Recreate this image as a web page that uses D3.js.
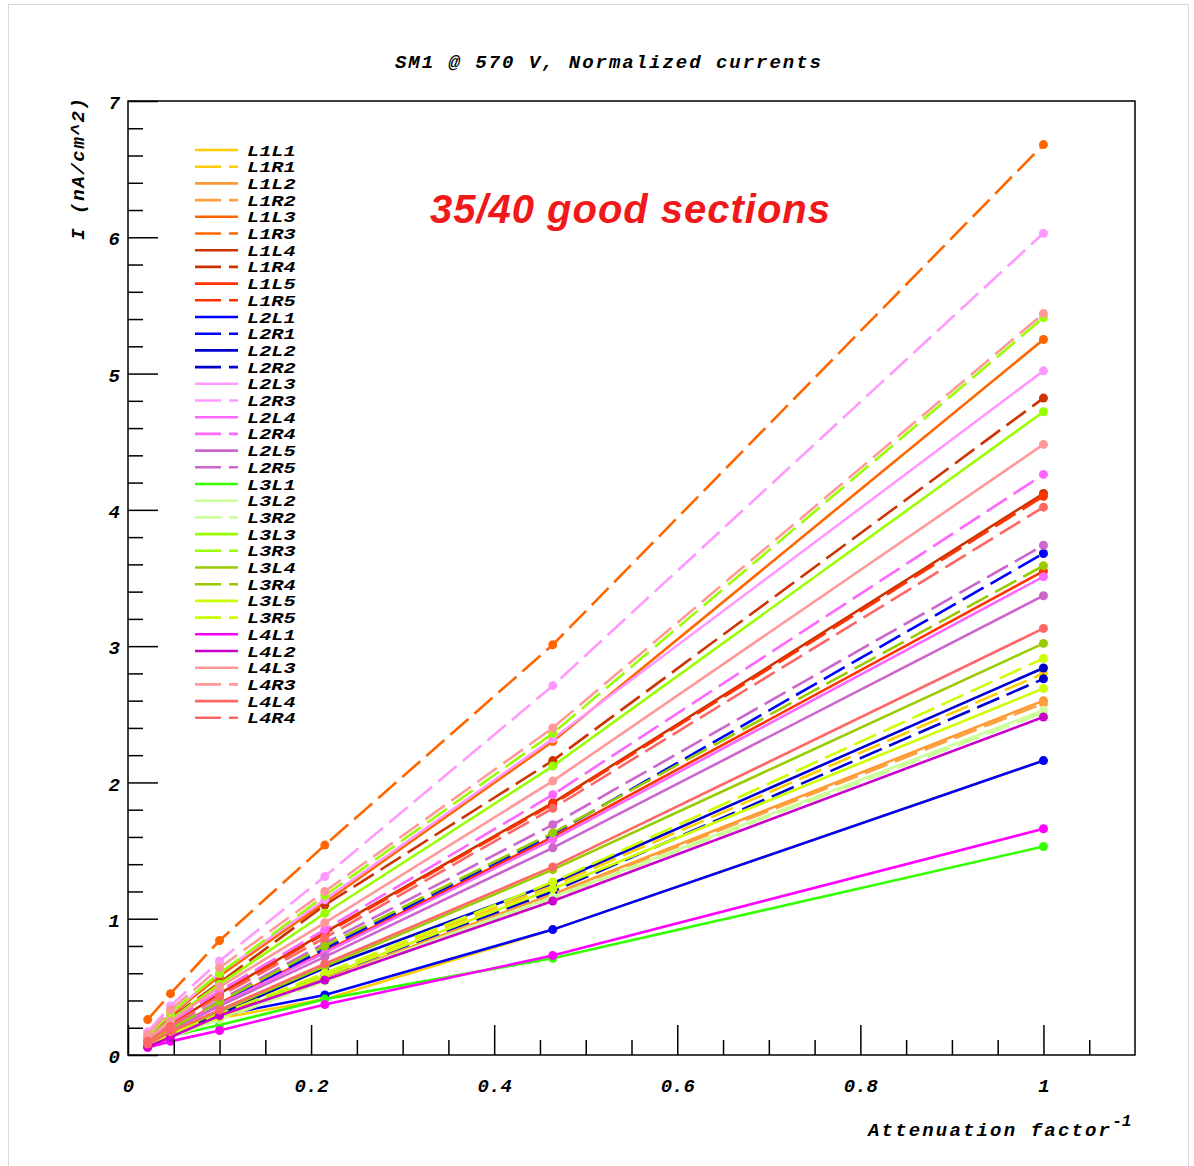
<!DOCTYPE html>
<html>
<head>
<meta charset="utf-8">
<script src="https://cdn.jsdelivr.net/npm/d3@7"></script>
<style>
  body { margin: 0; background: white; }
  .mono { font-family: "Liberation Mono", "DejaVu Sans Mono", monospace; font-weight: bold; font-style: italic; }
</style>
</head>
<body>
<div id="chart"></div>
<script>
var svgWidth = 1194;
var svgHeight = 1166;

// inverse attenuation factors
var xValues = [0.0215, 0.0464, 0.1, 0.215, 0.464, 1];

var names = ["L1L1", "L1R1", "L1L2", "L1R2", "L1L3", "L1R3", "L1L4", "L1R4", "L1L5", "L1R5",
             "L2L1", "L2R1", "L2L2", "L2R2", "L2L3", "L2R3", "L2L4", "L2R4", "L2L5", "L2R5",
             "L3L1", "L3L2", "L3R2", "L3L3", "L3R3", "L3L4", "L3R4", "L3L5", "L3R5",
             "L4L1", "L4L2", "L4L3", "L4R3", "L4L4", "L4R4"];

var colors = ["#ffcc00", "#ffcc00", "#ff9933", "#ffa040", "#ff6600", "#ff6600", "#cc3300", "#cc3300", "#ff3300", "#ff3300",
              "#0000ff", "#0000ff", "#0000cc", "#0000cc", "#ff99ff", "#ff99ff", "#ff66ff", "#ff66ff", "#cc66cc", "#cc66cc",
              "#33ff00", "#ccff99", "#ccff99", "#99ff00", "#99ff00", "#99cc00", "#99cc00", "#ccff00", "#ccff00",
              "#ff00ff", "#cc00cc", "#ff9999", "#ff9999", "#ff6666", "#ff6666"];

// normalized currents (nA/cm^2) at each xValues point
var currents = [
  [0.07, 0.14, 0.27, 0.41, 0.92, 2.16],  // L1L1
  [0.07, 0.15, 0.29, 0.60, 1.24, 2.80],  // L1R1
  [0.06, 0.14, 0.27, 0.56, 1.18, 2.60],  // L1L2
  [0.06, 0.14, 0.27, 0.55, 1.17, 2.58],  // L1R2
  [0.13, 0.29, 0.58, 1.12, 2.30, 5.25],  // L1L3
  [0.26, 0.45, 0.84, 1.54, 3.01, 6.68],  // L1R3
  [0.10, 0.22, 0.45, 0.90, 1.85, 4.12],  // L1L4
  [0.12, 0.27, 0.53, 1.10, 2.16, 4.82],  // L1R4
  [0.09, 0.19, 0.38, 0.76, 1.60, 3.55],  // L1L5
  [0.10, 0.22, 0.44, 0.89, 1.84, 4.10],  // L1R5
  [0.08, 0.16, 0.29, 0.44, 0.92, 2.16],  // L2L1
  [0.09, 0.19, 0.38, 0.78, 1.62, 3.68],  // L2R1
  [0.07, 0.15, 0.30, 0.64, 1.26, 2.84],  // L2L2
  [0.07, 0.14, 0.29, 0.58, 1.20, 2.76],  // L2R2
  [0.14, 0.30, 0.60, 1.14, 2.32, 5.02],  // L2L3
  [0.17, 0.36, 0.69, 1.31, 2.71, 6.03],  // L2R3
  [0.09, 0.19, 0.37, 0.75, 1.58, 3.51],  // L2L4
  [0.11, 0.24, 0.47, 0.92, 1.91, 4.26],  // L2R4
  [0.08, 0.18, 0.36, 0.72, 1.52, 3.37],  // L2L5
  [0.09, 0.20, 0.40, 0.82, 1.69, 3.74],  // L2R5
  [0.09, 0.14, 0.22, 0.41, 0.71, 1.53],  // L3L1
  [0.06, 0.13, 0.27, 0.55, 1.16, 2.53],  // L3L2
  [0.06, 0.13, 0.26, 0.54, 1.15, 2.51],  // L3R2
  [0.12, 0.26, 0.52, 1.04, 2.12, 4.72],  // L3L3
  [0.14, 0.31, 0.60, 1.17, 2.36, 5.41],  // L3R3
  [0.08, 0.16, 0.32, 0.65, 1.36, 3.02],  // L3L4
  [0.09, 0.19, 0.39, 0.80, 1.63, 3.59],  // L3R4
  [0.07, 0.14, 0.28, 0.58, 1.22, 2.69],  // L3L5
  [0.07, 0.15, 0.30, 0.60, 1.27, 2.91],  // L3R5
  [0.055, 0.10, 0.18, 0.37, 0.73, 1.66], // L4L1
  [0.06, 0.13, 0.29, 0.55, 1.13, 2.48],  // L4L2
  [0.12, 0.25, 0.50, 0.97, 2.01, 4.48],  // L4L3
  [0.15, 0.33, 0.64, 1.20, 2.40, 5.44],  // L4R3
  [0.08, 0.17, 0.33, 0.67, 1.38, 3.13],  // L4L4
  [0.10, 0.21, 0.43, 0.86, 1.81, 4.02]   // L4R4
];

var xMajorTicks = [0, 0.2, 0.4, 0.6, 0.8, 1];
var xTickLabels = ["0", "0.2", "0.4", "0.6", "0.8", "1"];
var xMinorTicks = [0.05, 0.1, 0.15, 0.25, 0.3, 0.35, 0.45, 0.5, 0.55, 0.65, 0.7, 0.75, 0.85, 0.9, 0.95, 1.05];
var yMajorTicks = [0, 1, 2, 3, 4, 5, 6, 7];

var frame = { left: 128, top: 101, right: 1135, bottom: 1055 };

var svg = d3.select("#chart")
    .append("svg")
    .attr("width", svgWidth)
    .attr("height", svgHeight);

// faint page border
svg.append("rect")
    .attr("x", 8.5).attr("y", 4.5)
    .attr("width", 1180).attr("height", 1170)
    .attr("fill", "none")
    .attr("stroke", "#d8d8d8");

var xScale = d3.scaleLinear().domain([0, 1.1]).range([frame.left, frame.right]);
var yScale = d3.scaleLinear().domain([0, 7]).range([frame.bottom, frame.top]);

var yMinorTicks = [];
yMajorTicks.slice(0, -1).forEach(function(v) {
    [0.2, 0.4, 0.6, 0.8].forEach(function(f) { yMinorTicks.push(v + f); });
});

// frame
svg.append("rect")
    .attr("x", frame.left).attr("y", frame.top)
    .attr("width", frame.right - frame.left)
    .attr("height", frame.bottom - frame.top)
    .attr("fill", "none")
    .attr("stroke", "black")
    .attr("stroke-width", 1.5);

// series
var lineGen = d3.line()
    .x(function(d, i) { return xScale(xValues[i]); })
    .y(function(d) { return yScale(d); });

var seriesGroup = svg.append("g");

names.forEach(function(name, k) {
    var dashed = name.charAt(2) === "R";
    var g = seriesGroup.append("g");
    g.append("path")
        .attr("d", lineGen(currents[k]))
        .attr("fill", "none")
        .attr("stroke", colors[k])
        .attr("stroke-width", 2.6)
        .attr("stroke-dasharray", dashed ? "24,8" : null);
    g.selectAll("circle")
        .data(currents[k])
        .enter()
        .append("circle")
        .attr("cx", function(d, i) { return xScale(xValues[i]); })
        .attr("cy", function(d) { return yScale(d); })
        .attr("r", 4.5)
        .attr("fill", colors[k]);
});

// axes
var xAxisMinor = d3.axisBottom(xScale).tickValues(xMinorTicks).tickSize(-15).tickFormat("");
var xAxisMajor = d3.axisBottom(xScale).tickValues(xMajorTicks).tickSize(-30).tickPadding(24)
    .tickFormat(function(d, i) { return xTickLabels[i]; });

var gx1 = svg.append("g").attr("transform", "translate(0," + frame.bottom + ")").call(xAxisMinor);
var gx2 = svg.append("g").attr("transform", "translate(0," + frame.bottom + ")").call(xAxisMajor);

var yAxisMinor = d3.axisLeft(yScale).tickValues(yMinorTicks).tickSize(-15).tickFormat("");
var yAxisMajor = d3.axisLeft(yScale).tickValues(yMajorTicks).tickSize(-30).tickPadding(8)
    .tickFormat(d3.format("d"));

var gy1 = svg.append("g").attr("transform", "translate(" + frame.left + ",0)").call(yAxisMinor);
var gy2 = svg.append("g").attr("transform", "translate(" + frame.left + ",0)").call(yAxisMajor);

[gx1, gx2, gy1, gy2].forEach(function(g) {
    g.select(".domain").remove();
    g.selectAll("line").attr("stroke", "black").attr("stroke-width", 1.5);
    g.selectAll("text")
        .attr("class", "mono")
        .attr("fill", "black")
        .style("font-size", "19px");
});
gy2.selectAll("text").attr("dy", "0.4em");

// title
svg.append("text")
    .attr("class", "mono")
    .attr("x", 608)
    .attr("y", 68)
    .attr("text-anchor", "middle")
    .attr("textLength", 426)
    .style("font-size", "19px")
    .text("SM1 @ 570 V, Normalized currents");

// axis titles
var xTitle = svg.append("text")
    .attr("class", "mono")
    .attr("x", 868)
    .attr("y", 1136)
    .style("font-size", "19px");
xTitle.append("tspan").attr("textLength", 242).text("Attenuation factor");
xTitle.append("tspan").attr("dy", -10).style("font-size", "16px").text("-1");

svg.append("text")
    .attr("class", "mono")
    .attr("transform", "translate(84, 98) rotate(-90)")
    .attr("text-anchor", "end")
    .attr("textLength", 142)
    .style("font-size", "19px")
    .text("I (nA/cm^2)");

// legend
var legend = svg.append("g");
var legendTop = 150;
var legendStep = 16.7;

names.forEach(function(name, k) {
    var yPos = legendTop + k * legendStep;
    var dashed = name.charAt(2) === "R";
    legend.append("line")
        .attr("x1", 195).attr("x2", 238)
        .attr("y1", yPos).attr("y2", yPos)
        .attr("stroke", colors[k])
        .attr("stroke-width", 2.6)
        .attr("stroke-dasharray", dashed ? "26,8" : null);
    legend.append("text")
        .attr("class", "mono")
        .attr("transform", "translate(247," + (yPos + 5.5) + ") scale(1.35,1)")
        .style("font-size", "15px")
        .text(name);
});

// annotation
svg.append("text")
    .attr("x", 430)
    .attr("y", 223)
    .attr("textLength", 400)
    .attr("fill", "#f01818")
    .style("font-family", "'Liberation Sans', Arial, sans-serif")
    .style("font-weight", "bold")
    .style("font-style", "italic")
    .style("font-size", "40px")
    .text("35/40 good sections");
</script>
</body>
</html>
